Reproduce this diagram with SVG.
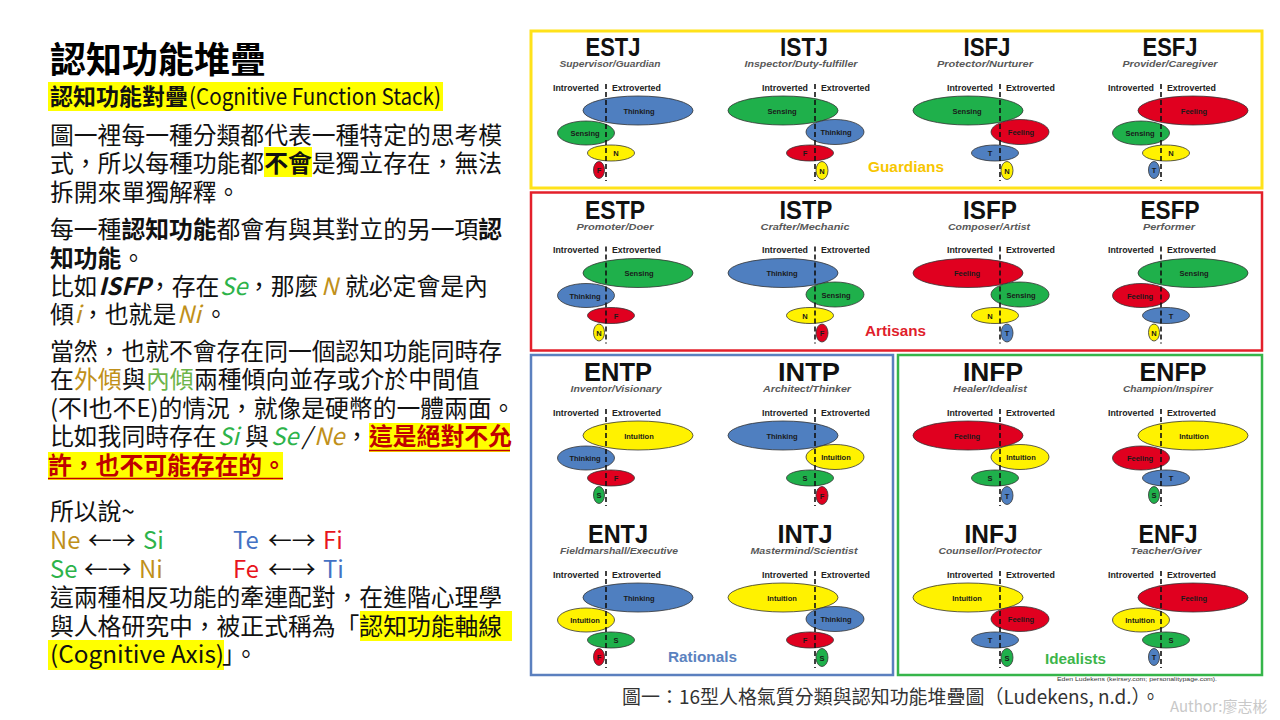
<svg xmlns="http://www.w3.org/2000/svg" width="1280" height="720" viewBox="0 0 1280 720">
<style>
.cjk{font-family:"Noto Sans CJK TC","Noto Sans",sans-serif}
.body{font-size:23.8px;fill:#111}
.b{font-weight:700}
.it{font-style:italic}
.gold{fill:#C0901A}
.grn{fill:#2DB34A}
.lgrn{fill:#6DB44A}
.blu{fill:#4472C4}
.red{fill:#E8141C}
.dred{fill:#C00000;font-weight:700}
.hl{fill:#FFFF00}
.t{font-family:"Liberation Sans",Arial,sans-serif;font-weight:700;font-size:25.5px;fill:#111;text-anchor:middle}
.sub{font-family:"Liberation Sans",Arial,sans-serif;font-weight:700;font-style:italic;font-size:9.8px;fill:#595959;text-anchor:middle}
.hdr{font-family:"Liberation Sans",Arial,sans-serif;font-weight:700;font-size:8.8px;fill:#222}
.fl{font-family:"Liberation Sans",Arial,sans-serif;font-weight:700;font-size:7.5px;fill:#1a1a1a;text-anchor:middle}
.dl{stroke:#111;stroke-width:1.6;stroke-dasharray:5 3}
ellipse{stroke:#333;stroke-width:0.8}
.B{fill:#4F7FC0}.G{fill:#1FB04B}.Y{fill:#FFF200}.R{fill:#E0001F}
.box{fill:none}
.glab{font-family:"Liberation Sans",Arial,sans-serif;font-weight:700;font-size:15px}
</style>
<rect width="1280" height="720" fill="#ffffff"/>

<!-- Left text -->
<g id="title"><text class="cjk" x="50" y="72.5" font-size="36" font-weight="700" fill="#000">認知功能堆疊</text></g>
<g id="subtitle">
<rect class="hl" x="48" y="82" width="395" height="29"/>
<text class="cjk" x="50" y="104.5" font-size="23" font-weight="700" fill="#111">認知功能對疊</text>
<text class="cjk" x="189" y="104.5" font-size="23" fill="#111" textLength="252" lengthAdjust="spacingAndGlyphs">(Cognitive Function Stack)</text>
</g>
<g id="para1">
<rect class="hl" x="264" y="147" width="48" height="30"/>
<text class="cjk body" x="50" y="144">圖一裡每一種分類都代表一種特定的思考模</text>
<text class="cjk body" x="50" y="172">式，所以每種功能都<tspan class="b">不會</tspan>是獨立存在，無法</text>
<text class="cjk body" x="50" y="200.5">拆開來單獨解釋。</text>
</g>
<g id="para2">
<text class="cjk body" x="50" y="238">每一種<tspan class="b">認知功能</tspan>都會有與其對立的另一項<tspan class="b">認</tspan></text>
<text class="cjk body" x="50" y="266.5"><tspan class="b">知功能</tspan>。</text>
<text class="cjk body" y="295"><tspan x="50">比如</tspan><tspan x="98.5" class="b it">ISFP</tspan><tspan x="148">，存在</tspan><tspan x="220" class="it grn">Se</tspan><tspan x="247">，那麼</tspan><tspan x="321" class="it gold">N</tspan><tspan x="345">就必定會是內</tspan></text>
<text class="cjk body" y="323"><tspan x="50">傾</tspan><tspan x="74.5" class="it gold">i</tspan><tspan x="81">，也就是</tspan><tspan x="177" class="it gold">Ni</tspan><tspan x="204">。</tspan></text>
</g>
<g id="para3">
<rect class="hl" x="369" y="423" width="141" height="29"/>
<rect class="hl" x="48" y="452" width="235" height="28"/>
<text class="cjk body" x="50" y="360">當然，也就不會存在同一個認知功能同時存</text>
<text class="cjk body" y="388"><tspan x="50">在</tspan><tspan x="74" class="gold">外傾</tspan><tspan x="122">與</tspan><tspan x="146" class="lgrn">內傾</tspan><tspan x="194">兩種傾向並存或介於中間值</tspan></text>
<text class="cjk body" x="50" y="417">(不I也不E)的情況，就像是硬幣的一體兩面。</text>
<text class="cjk body" y="445"><tspan x="50">比如我同時存在</tspan><tspan x="218" class="it grn">Si</tspan><tspan x="245">與</tspan><tspan x="271" class="it grn">Se</tspan><tspan x="302" class="it">/</tspan><tspan x="314" class="it gold">Ne</tspan><tspan x="345">，</tspan><tspan x="369" class="dred">這是絕對不允</tspan></text>
<text class="cjk body" x="48" y="474"><tspan class="dred">許，也不可能存在的。</tspan></text>
<line x1="369" y1="450.5" x2="510" y2="450.5" stroke="#C00000" stroke-width="1.5"/>
<line x1="48" y1="478.5" x2="283" y2="478.5" stroke="#C00000" stroke-width="1.5"/>
</g>
<g id="para4">
<rect class="hl" x="360" y="611" width="152" height="30"/>
<rect class="hl" x="48" y="640" width="176" height="30"/>
<text class="cjk body" x="50" y="520">所以說~</text>
<text class="cjk body" y="549"><tspan x="50" class="gold">Ne</tspan><tspan x="88">←→</tspan><tspan x="143" class="grn">Si</tspan><tspan x="233" class="blu">Te</tspan><tspan x="268">←→</tspan><tspan x="323" class="red">Fi</tspan></text>
<text class="cjk body" y="578"><tspan x="50" class="grn">Se</tspan><tspan x="84">←→</tspan><tspan x="139" class="gold">Ni</tspan><tspan x="233" class="red">Fe</tspan><tspan x="268">←→</tspan><tspan x="323" class="blu">Ti</tspan></text>
<text class="cjk body" x="50" y="606">這兩種相反功能的牽連配對，在進階心理學</text>
<text class="cjk body" x="50" y="635">與人格研究中，被正式稱為「認知功能軸線</text>
<text class="cjk body" x="50" y="663" textLength="174" lengthAdjust="spacingAndGlyphs">(Cognitive Axis)</text>
<text class="cjk body" x="222" y="663">」。</text>
</g>

<!-- Temperament group boxes -->
<g id="guardians">
<rect class="box" x="531" y="31" width="731" height="157" stroke="#FFE21A" stroke-width="3"/>
<text class="glab" x="868" y="172" fill="#F7C600" textLength="76" lengthAdjust="spacingAndGlyphs">Guardians</text>
</g>
<g id="artisans">
<rect class="box" x="531" y="192.5" width="731" height="158" stroke="#E3202B" stroke-width="2.5"/>
<text class="glab" x="865" y="336" fill="#E01E2B" textLength="61" lengthAdjust="spacingAndGlyphs">Artisans</text>
</g>
<g id="rationals">
<rect class="box" x="531" y="355" width="362" height="320" stroke="#5B80BF" stroke-width="2.5"/>
<text class="glab" x="668" y="662" fill="#5B82C0" textLength="69" lengthAdjust="spacingAndGlyphs">Rationals</text>
</g>
<g id="idealists">
<rect class="box" x="898" y="355" width="364" height="320" stroke="#36B54A" stroke-width="2.5"/>
<text class="glab" x="1045" y="664" fill="#3DB54A" textLength="61" lengthAdjust="spacingAndGlyphs">Idealists</text>
</g>

<!-- Row 1 -->
<g id="ESTJ" transform="translate(606,0)">
<text class="t" x="7" y="56" textLength="55" lengthAdjust="spacingAndGlyphs">ESTJ</text>
<text class="sub" x="4" y="67" textLength="101" lengthAdjust="spacingAndGlyphs">Supervisor/Guardian</text>
<text class="hdr" x="-7" y="90.5" text-anchor="end">Introverted</text><text class="hdr" x="6" y="90.5">Extroverted</text>
<ellipse class="B" cx="32" cy="110.5" rx="55" ry="14.5"/><text class="fl" x="33" y="113.5">Thinking</text>
<ellipse class="G" cx="-20" cy="133" rx="28.5" ry="12"/><text class="fl" x="-21" y="136">Sensing</text>
<ellipse class="Y" cx="5" cy="153" rx="23.5" ry="8"/><text class="fl" x="10" y="156">N</text>
<ellipse class="R" cx="-7" cy="170" rx="5.5" ry="8.5"/><text class="fl" x="-7" y="173">F</text>
<line class="dl" x1="0" y1="84" x2="0" y2="181"/>
</g>
<g id="ISTJ" transform="translate(815,0)">
<text class="t" x="-11" y="56" textLength="48" lengthAdjust="spacingAndGlyphs">ISTJ</text>
<text class="sub" x="-14" y="67" textLength="113" lengthAdjust="spacingAndGlyphs">Inspector/Duty-fulfiller</text>
<text class="hdr" x="-7" y="90.5" text-anchor="end">Introverted</text><text class="hdr" x="6" y="90.5">Extroverted</text>
<ellipse class="G" cx="-32" cy="110.5" rx="55" ry="14.5"/><text class="fl" x="-33" y="113.5">Sensing</text>
<ellipse class="B" cx="20" cy="132" rx="29" ry="12.5"/><text class="fl" x="21" y="135">Thinking</text>
<ellipse class="R" cx="-5" cy="153" rx="23.5" ry="8"/><text class="fl" x="-10" y="156">F</text>
<ellipse class="Y" cx="7" cy="170.5" rx="6" ry="9"/><text class="fl" x="7" y="173.5">N</text>
<line class="dl" x1="0" y1="84" x2="0" y2="181"/>
</g>
<g id="ISFJ" transform="translate(1000,0)">
<text class="t" x="-13" y="56" textLength="47" lengthAdjust="spacingAndGlyphs">ISFJ</text>
<text class="sub" x="-15" y="67" textLength="96" lengthAdjust="spacingAndGlyphs">Protector/Nurturer</text>
<text class="hdr" x="-7" y="90.5" text-anchor="end">Introverted</text><text class="hdr" x="6" y="90.5">Extroverted</text>
<ellipse class="G" cx="-32" cy="110.5" rx="55" ry="14.5"/><text class="fl" x="-33" y="113.5">Sensing</text>
<ellipse class="R" cx="20" cy="132" rx="29" ry="12.5"/><text class="fl" x="21" y="135">Feeling</text>
<ellipse class="B" cx="-5" cy="153" rx="23.5" ry="8"/><text class="fl" x="-10" y="156">T</text>
<ellipse class="Y" cx="7" cy="170.5" rx="6" ry="9"/><text class="fl" x="7" y="173.5">N</text>
<line class="dl" x1="0" y1="84" x2="0" y2="181"/>
</g>
<g id="ESFJ" transform="translate(1161,0)">
<text class="t" x="9" y="56" textLength="55" lengthAdjust="spacingAndGlyphs">ESFJ</text>
<text class="sub" x="9" y="67" textLength="95" lengthAdjust="spacingAndGlyphs">Provider/Caregiver</text>
<text class="hdr" x="-7" y="90.5" text-anchor="end">Introverted</text><text class="hdr" x="6" y="90.5">Extroverted</text>
<ellipse class="R" cx="32" cy="110.5" rx="55" ry="14.5"/><text class="fl" x="33" y="113.5">Feeling</text>
<ellipse class="G" cx="-20" cy="133" rx="28.5" ry="12"/><text class="fl" x="-21" y="136">Sensing</text>
<ellipse class="Y" cx="5" cy="153" rx="23.5" ry="8"/><text class="fl" x="10" y="156">N</text>
<ellipse class="B" cx="-7" cy="170" rx="5.5" ry="8.5"/><text class="fl" x="-7" y="173">T</text>
<line class="dl" x1="0" y1="84" x2="0" y2="181"/>
</g>

<!-- Row 2 -->
<g id="ESTP" transform="translate(606,162.5)">
<text class="t" x="9" y="56" textLength="60" lengthAdjust="spacingAndGlyphs">ESTP</text>
<text class="sub" x="9" y="67" textLength="77" lengthAdjust="spacingAndGlyphs">Promoter/Doer</text>
<text class="hdr" x="-7" y="90.5" text-anchor="end">Introverted</text><text class="hdr" x="6" y="90.5">Extroverted</text>
<ellipse class="G" cx="32" cy="110.5" rx="55" ry="14.5"/><text class="fl" x="33" y="113.5">Sensing</text>
<ellipse class="B" cx="-20" cy="133" rx="28.5" ry="12"/><text class="fl" x="-21" y="136">Thinking</text>
<ellipse class="R" cx="5" cy="153" rx="23.5" ry="8"/><text class="fl" x="10" y="156">F</text>
<ellipse class="Y" cx="-7" cy="170" rx="5.5" ry="8.5"/><text class="fl" x="-7" y="173">N</text>
<line class="dl" x1="0" y1="84" x2="0" y2="181"/>
</g>
<g id="ISTP" transform="translate(815,162.5)">
<text class="t" x="-9" y="56" textLength="53" lengthAdjust="spacingAndGlyphs">ISTP</text>
<text class="sub" x="-10" y="67" textLength="89" lengthAdjust="spacingAndGlyphs">Crafter/Mechanic</text>
<text class="hdr" x="-7" y="90.5" text-anchor="end">Introverted</text><text class="hdr" x="6" y="90.5">Extroverted</text>
<ellipse class="B" cx="-32" cy="110.5" rx="55" ry="14.5"/><text class="fl" x="-33" y="113.5">Thinking</text>
<ellipse class="G" cx="20" cy="132" rx="29" ry="12.5"/><text class="fl" x="21" y="135">Sensing</text>
<ellipse class="Y" cx="-5" cy="153" rx="23.5" ry="8"/><text class="fl" x="-10" y="156">N</text>
<ellipse class="R" cx="7" cy="170.5" rx="6" ry="9"/><text class="fl" x="7" y="173.5">F</text>
<line class="dl" x1="0" y1="84" x2="0" y2="181"/>
</g>
<g id="ISFP" transform="translate(1000,162.5)">
<text class="t" x="-10" y="56" textLength="54" lengthAdjust="spacingAndGlyphs">ISFP</text>
<text class="sub" x="-11" y="67" textLength="82" lengthAdjust="spacingAndGlyphs">Composer/Artist</text>
<text class="hdr" x="-7" y="90.5" text-anchor="end">Introverted</text><text class="hdr" x="6" y="90.5">Extroverted</text>
<ellipse class="R" cx="-32" cy="110.5" rx="55" ry="14.5"/><text class="fl" x="-33" y="113.5">Feeling</text>
<ellipse class="G" cx="20" cy="132" rx="29" ry="12.5"/><text class="fl" x="21" y="135">Sensing</text>
<ellipse class="Y" cx="-5" cy="153" rx="23.5" ry="8"/><text class="fl" x="-10" y="156">N</text>
<ellipse class="B" cx="7" cy="170.5" rx="6" ry="9"/><text class="fl" x="7" y="173.5">T</text>
<line class="dl" x1="0" y1="84" x2="0" y2="181"/>
</g>
<g id="ESFP" transform="translate(1161,162.5)">
<text class="t" x="9" y="56" textLength="59" lengthAdjust="spacingAndGlyphs">ESFP</text>
<text class="sub" x="8" y="67" textLength="52" lengthAdjust="spacingAndGlyphs">Performer</text>
<text class="hdr" x="-7" y="90.5" text-anchor="end">Introverted</text><text class="hdr" x="6" y="90.5">Extroverted</text>
<ellipse class="G" cx="32" cy="110.5" rx="55" ry="14.5"/><text class="fl" x="33" y="113.5">Sensing</text>
<ellipse class="R" cx="-20" cy="133" rx="28.5" ry="12"/><text class="fl" x="-21" y="136">Feeling</text>
<ellipse class="B" cx="5" cy="153" rx="23.5" ry="8"/><text class="fl" x="10" y="156">T</text>
<ellipse class="Y" cx="-7" cy="170" rx="5.5" ry="8.5"/><text class="fl" x="-7" y="173">N</text>
<line class="dl" x1="0" y1="84" x2="0" y2="181"/>
</g>

<!-- Row 3 -->
<g id="ENTP" transform="translate(606,325)">
<text class="t" x="12" y="56" textLength="68" lengthAdjust="spacingAndGlyphs">ENTP</text>
<text class="sub" x="10" y="67" textLength="91" lengthAdjust="spacingAndGlyphs">Inventor/Visionary</text>
<text class="hdr" x="-7" y="90.5" text-anchor="end">Introverted</text><text class="hdr" x="6" y="90.5">Extroverted</text>
<ellipse class="Y" cx="32" cy="110.5" rx="55" ry="14.5"/><text class="fl" x="33" y="113.5">Intuition</text>
<ellipse class="B" cx="-20" cy="133" rx="28.5" ry="12"/><text class="fl" x="-21" y="136">Thinking</text>
<ellipse class="R" cx="5" cy="153" rx="23.5" ry="8"/><text class="fl" x="10" y="156">F</text>
<ellipse class="G" cx="-7" cy="170" rx="5.5" ry="8.5"/><text class="fl" x="-7" y="173">S</text>
<line class="dl" x1="0" y1="84" x2="0" y2="181"/>
</g>
<g id="INTP" transform="translate(815,325)">
<text class="t" x="-6" y="56" textLength="62" lengthAdjust="spacingAndGlyphs">INTP</text>
<text class="sub" x="-8" y="67" textLength="88" lengthAdjust="spacingAndGlyphs">Architect/Thinker</text>
<text class="hdr" x="-7" y="90.5" text-anchor="end">Introverted</text><text class="hdr" x="6" y="90.5">Extroverted</text>
<ellipse class="B" cx="-32" cy="110.5" rx="55" ry="14.5"/><text class="fl" x="-33" y="113.5">Thinking</text>
<ellipse class="Y" cx="20" cy="132" rx="29" ry="12.5"/><text class="fl" x="21" y="135">Intuition</text>
<ellipse class="G" cx="-5" cy="153" rx="23.5" ry="8"/><text class="fl" x="-10" y="156">S</text>
<ellipse class="R" cx="7" cy="170.5" rx="6" ry="9"/><text class="fl" x="7" y="173.5">F</text>
<line class="dl" x1="0" y1="84" x2="0" y2="181"/>
</g>
<g id="INFP" transform="translate(1000,325)">
<text class="t" x="-7" y="56" textLength="60" lengthAdjust="spacingAndGlyphs">INFP</text>
<text class="sub" x="-10" y="67" textLength="74" lengthAdjust="spacingAndGlyphs">Healer/Idealist</text>
<text class="hdr" x="-7" y="90.5" text-anchor="end">Introverted</text><text class="hdr" x="6" y="90.5">Extroverted</text>
<ellipse class="R" cx="-32" cy="110.5" rx="55" ry="14.5"/><text class="fl" x="-33" y="113.5">Feeling</text>
<ellipse class="Y" cx="20" cy="132" rx="29" ry="12.5"/><text class="fl" x="21" y="135">Intuition</text>
<ellipse class="G" cx="-5" cy="153" rx="23.5" ry="8"/><text class="fl" x="-10" y="156">S</text>
<ellipse class="B" cx="7" cy="170.5" rx="6" ry="9"/><text class="fl" x="7" y="173.5">T</text>
<line class="dl" x1="0" y1="84" x2="0" y2="181"/>
</g>
<g id="ENFP" transform="translate(1161,325)">
<text class="t" x="12" y="56" textLength="67" lengthAdjust="spacingAndGlyphs">ENFP</text>
<text class="sub" x="7" y="67" textLength="90" lengthAdjust="spacingAndGlyphs">Champion/Inspirer</text>
<text class="hdr" x="-7" y="90.5" text-anchor="end">Introverted</text><text class="hdr" x="6" y="90.5">Extroverted</text>
<ellipse class="Y" cx="32" cy="110.5" rx="55" ry="14.5"/><text class="fl" x="33" y="113.5">Intuition</text>
<ellipse class="R" cx="-20" cy="133" rx="28.5" ry="12"/><text class="fl" x="-21" y="136">Feeling</text>
<ellipse class="B" cx="5" cy="153" rx="23.5" ry="8"/><text class="fl" x="10" y="156">T</text>
<ellipse class="G" cx="-7" cy="170" rx="5.5" ry="8.5"/><text class="fl" x="-7" y="173">S</text>
<line class="dl" x1="0" y1="84" x2="0" y2="181"/>
</g>

<!-- Row 4 -->
<g id="ENTJ" transform="translate(606,487)">
<text class="t" x="12" y="56" textLength="60" lengthAdjust="spacingAndGlyphs">ENTJ</text>
<text class="sub" x="13" y="67" textLength="118" lengthAdjust="spacingAndGlyphs">Fieldmarshall/Executive</text>
<text class="hdr" x="-7" y="90.5" text-anchor="end">Introverted</text><text class="hdr" x="6" y="90.5">Extroverted</text>
<ellipse class="B" cx="32" cy="110.5" rx="55" ry="14.5"/><text class="fl" x="33" y="113.5">Thinking</text>
<ellipse class="Y" cx="-20" cy="133" rx="28.5" ry="12"/><text class="fl" x="-21" y="136">Intuition</text>
<ellipse class="G" cx="5" cy="153" rx="23.5" ry="8"/><text class="fl" x="10" y="156">S</text>
<ellipse class="R" cx="-7" cy="170" rx="5.5" ry="8.5"/><text class="fl" x="-7" y="173">F</text>
<line class="dl" x1="0" y1="84" x2="0" y2="181"/>
</g>
<g id="INTJ" transform="translate(815,487)">
<text class="t" x="-10" y="56" textLength="55" lengthAdjust="spacingAndGlyphs">INTJ</text>
<text class="sub" x="-11" y="67" textLength="107" lengthAdjust="spacingAndGlyphs">Mastermind/Scientist</text>
<text class="hdr" x="-7" y="90.5" text-anchor="end">Introverted</text><text class="hdr" x="6" y="90.5">Extroverted</text>
<ellipse class="Y" cx="-32" cy="110.5" rx="55" ry="14.5"/><text class="fl" x="-33" y="113.5">Intuition</text>
<ellipse class="B" cx="20" cy="132" rx="29" ry="12.5"/><text class="fl" x="21" y="135">Thinking</text>
<ellipse class="R" cx="-5" cy="153" rx="23.5" ry="8"/><text class="fl" x="-10" y="156">F</text>
<ellipse class="G" cx="7" cy="170.5" rx="6" ry="9"/><text class="fl" x="7" y="173.5">S</text>
<line class="dl" x1="0" y1="84" x2="0" y2="181"/>
</g>
<g id="INFJ" transform="translate(1000,487)">
<text class="t" x="-9" y="56" textLength="53" lengthAdjust="spacingAndGlyphs">INFJ</text>
<text class="sub" x="-10" y="67" textLength="103" lengthAdjust="spacingAndGlyphs">Counsellor/Protector</text>
<text class="hdr" x="-7" y="90.5" text-anchor="end">Introverted</text><text class="hdr" x="6" y="90.5">Extroverted</text>
<ellipse class="Y" cx="-32" cy="110.5" rx="55" ry="14.5"/><text class="fl" x="-33" y="113.5">Intuition</text>
<ellipse class="R" cx="20" cy="132" rx="29" ry="12.5"/><text class="fl" x="21" y="135">Feeling</text>
<ellipse class="B" cx="-5" cy="153" rx="23.5" ry="8"/><text class="fl" x="-10" y="156">T</text>
<ellipse class="G" cx="7" cy="170.5" rx="6" ry="9"/><text class="fl" x="7" y="173.5">S</text>
<line class="dl" x1="0" y1="84" x2="0" y2="181"/>
</g>
<g id="ENFJ" transform="translate(1161,487)">
<text class="t" x="7" y="56" textLength="59" lengthAdjust="spacingAndGlyphs">ENFJ</text>
<text class="sub" x="5" y="67" textLength="71" lengthAdjust="spacingAndGlyphs">Teacher/Giver</text>
<text class="hdr" x="-7" y="90.5" text-anchor="end">Introverted</text><text class="hdr" x="6" y="90.5">Extroverted</text>
<ellipse class="R" cx="32" cy="110.5" rx="55" ry="14.5"/><text class="fl" x="33" y="113.5">Feeling</text>
<ellipse class="Y" cx="-20" cy="133" rx="28.5" ry="12"/><text class="fl" x="-21" y="136">Intuition</text>
<ellipse class="G" cx="5" cy="153" rx="23.5" ry="8"/><text class="fl" x="10" y="156">S</text>
<ellipse class="B" cx="-7" cy="170" rx="5.5" ry="8.5"/><text class="fl" x="-7" y="173">T</text>
<line class="dl" x1="0" y1="84" x2="0" y2="181"/>
</g>

<g id="connectors"></g>

<g id="credits">
<text x="1057" y="681" font-family="Liberation Sans, Arial, sans-serif" font-size="5.5" fill="#333" textLength="160" lengthAdjust="spacingAndGlyphs">Eden Ludekens (keirsey.com; personalitypage.com).</text>
<text class="cjk" x="622" y="703.5" font-size="19" fill="#333" textLength="538" lengthAdjust="spacingAndGlyphs">圖一：16型人格氣質分類與認知功能堆疊圖（Ludekens, n.d.）。</text>
<text class="cjk" x="1170" y="712" font-size="15" fill="#C8C8C8">Author:廖志彬</text>
</g>
</svg>
